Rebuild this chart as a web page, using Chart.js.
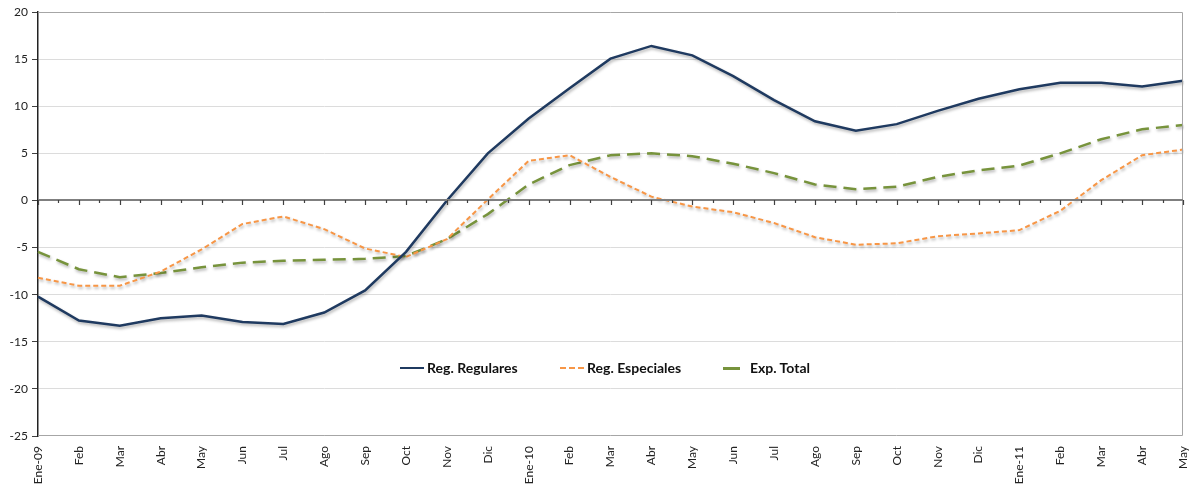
<!DOCTYPE html>
<html>
<head>
<meta charset="utf-8">
<script src="https://cdn.jsdelivr.net/npm/chart.js@4"></script>
<style>
  body { margin: 0; background: #fff; }
  #wrap { position: relative; width: 1190px; height: 487px; }
  .item { position: absolute; top: 360px; display: flex; align-items: center;
    font: bold 14px Lato, "Open Sans", sans-serif; color: #111; line-height: 16px; white-space: nowrap; }
  .sample { width: 24px; height: 0; margin-right: 3px; }
</style>
</head>
<body>
<div id="wrap">
  <canvas id="chart" width="1190" height="487"></canvas>
  <div class="item" style="left:400px"><span class="sample" style="border-top: 2px solid #1f3a60"></span>Reg. Regulares</div>
  <div class="item" style="left:560px"><span class="sample" style="border-top: 2px dashed #f79646"></span>Reg. Especiales</div>
  <div class="item" style="left:723px"><span class="sample" style="width:17px;margin-right:10px;border-top: 3px solid #77933c"></span>Exp. Total</div>
</div>
<script>
const labels = ["Ene-09", "Feb", "Mar", "Abr", "May", "Jun", "Jul", "Ago", "Sep", "Oct", "Nov", "Dic",
  "Ene-10", "Feb", "Mar", "Abr", "May", "Jun", "Jul", "Ago", "Sep", "Oct", "Nov", "Dic",
  "Ene-11", "Feb", "Mar", "Abr", "May"];

const regulares = [-10.2, -12.75, -13.3, -12.5, -12.2, -12.9, -13.1, -11.9, -9.55, -5.45, 0, 5.0,
  8.7, 11.9, 15.05, 16.4, 15.4, 13.2, 10.65, 8.4, 7.4, 8.1, 9.5, 10.8,
  11.8, 12.5, 12.5, 12.1, 12.7];
const especiales = [-8.2, -9.05, -9.05, -7.55, -5.2, -2.5, -1.7, -3.05, -5.1, -6.0, -4.1, 0.1,
  4.2, 4.8, 2.5, 0.4, -0.65, -1.25, -2.4, -3.9, -4.7, -4.55, -3.8, -3.5,
  -3.15, -1.1, 2.15, 4.8, 5.4];
const total = [-5.45, -7.3, -8.15, -7.7, -7.1, -6.6, -6.4, -6.3, -6.2, -5.9, -4.1, -1.45,
  1.7, 3.75, 4.8, 5.0, 4.7, 3.9, 2.9, 1.7, 1.2, 1.45, 2.5, 3.2,
  3.7, 5.0, 6.5, 7.55, 8.0];

const yMin = -25, yMax = 20, yStep = 5;

Chart.defaults.font.family = "Lato, 'Open Sans', sans-serif";
Chart.defaults.font.size = 12;
Chart.defaults.color = "#333";

// frame around the plot + tick marks along the zero line
const framePlugin = {
  id: "frame",
  afterDatasetsDraw(chart) {
    const { ctx, chartArea: a, scales } = chart;
    ctx.save();
    ctx.strokeStyle = "#a6a6a6";
    ctx.lineWidth = 1;
    ctx.beginPath();
    ctx.moveTo(a.left, a.top + 0.5);
    ctx.lineTo(a.right - 0.5, a.top + 0.5);
    ctx.lineTo(a.right - 0.5, a.bottom - 0.5);
    ctx.lineTo(a.left, a.bottom - 0.5);
    ctx.stroke();

    const y0 = Math.round(scales.y.getPixelForValue(0));
    ctx.strokeStyle = "#7f7f7f";
    ctx.lineWidth = 2;
    ctx.beginPath();
    ctx.moveTo(a.left, y0);
    ctx.lineTo(a.right, y0);
    ctx.stroke();
    ctx.lineWidth = 1.2;
    ctx.strokeStyle = "#404040";
    ctx.beginPath();
    for (let i = 0; i < labels.length; i++) {
      const x = Math.round(scales.x.getPixelForValue(i)) + 0.5;
      ctx.moveTo(x, y0);
      ctx.lineTo(x, y0 + 5);
      if (i < labels.length - 1) {
        const xm = Math.round(scales.x.getPixelForValue(i + 0.5)) + 0.5;
        ctx.moveTo(xm, y0);
        ctx.lineTo(xm, y0 + 3);
      }
    }
    ctx.stroke();
    ctx.restore();
  },
  beforeDatasetDraw(chart) {
    const ctx = chart.ctx;
    ctx.save();
    ctx.shadowColor = "rgba(0,0,0,0.3)";
    ctx.shadowBlur = 3;
    ctx.shadowOffsetX = 1;
    ctx.shadowOffsetY = 2;
  },
  afterDatasetDraw(chart) {
    chart.ctx.restore();
  },
};

const chart = new Chart(document.getElementById("chart"), {
  type: "line",
  data: {
    labels: labels,
    datasets: [
      {
        label: "Reg. Regulares",
        data: regulares,
        borderColor: "#1f3a60",
        borderWidth: 2.5,
        pointRadius: 0,
        tension: 0,
      },
      {
        label: "Reg. Especiales",
        data: especiales,
        borderColor: "#f79646",
        borderWidth: 2,
        borderDash: [5, 3],
        pointRadius: 0,
        tension: 0,
      },
      {
        label: "Exp. Total",
        data: total,
        borderColor: "#77933c",
        borderWidth: 2.5,
        borderDash: [13, 7],
        pointRadius: 0,
        tension: 0,
      },
    ],
  },
  options: {
    responsive: false,
    animation: false,
    layout: { padding: { top: 12, right: 7, left: 0, bottom: 0 } },
    plugins: {
      legend: { display: false },
      tooltip: { enabled: false },
    },
    scales: {
      x: {
        offset: false,
        grid: { display: false },
        border: { display: false },
        ticks: {
          autoSkip: false,
          maxRotation: 90,
          minRotation: 90,
          padding: 2,
          color: "#222",
        },
        afterFit(scale) {
          scale.height = 51;
          scale.paddingLeft = 0;
          scale.paddingRight = 0;
        },
      },
      y: {
        min: yMin,
        max: yMax,
        ticks: { stepSize: yStep, padding: 4, color: "#222" },
        grid: {
          color: (c) => (c.tick && (c.tick.value === 0 || c.tick.value === yMax || c.tick.value === yMin) ? "rgba(0,0,0,0)" : "#dcdcdc"),
          tickColor: "#404040",
          tickLength: 6,
        },
        border: { color: "#222", width: 1.5 },
        afterFit(scale) { scale.width = 38; },
      },
    },
  },
  plugins: [framePlugin],
});
</script>
</body>
</html>
